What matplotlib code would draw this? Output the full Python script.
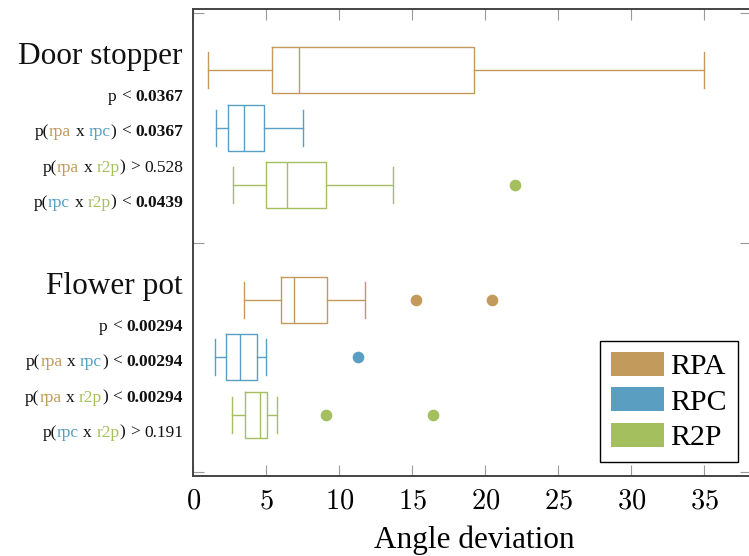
import matplotlib
matplotlib.use("Agg")
import matplotlib.pyplot as plt
from matplotlib.patches import Patch

# ---- data -------------------------------------------------------------
objects = ["Door stopper", "Flower pot"]
methods = ["RPA", "RPC", "R2P"]

# five-number summaries per method: [door stopper, flower pot]
rpa_whislo = [1.03, 3.49]
rpa_q1 = [5.41, 6.01]
rpa_med = [7.26, 6.87]
rpa_q3 = [19.2, 9.18]
rpa_whishi = [35.0, 11.78]
rpa_fliers = [[], [15.23, 20.48]]

rpc_whislo = [1.53, 1.51]
rpc_q1 = [2.38, 2.22]
rpc_med = [3.49, 3.20]
rpc_q3 = [4.82, 4.34]
rpc_whishi = [7.51, 4.96]
rpc_fliers = [[], [11.26]]

r2p_whislo = [2.74, 2.63]
r2p_q1 = [5.00, 3.56]
r2p_med = [6.40, 4.57]
r2p_q3 = [9.11, 5.05]
r2p_whishi = [13.66, 5.75]
r2p_fliers = [[22.03], [9.07, 16.44]]

x_ticks = [0, 5, 10, 15, 20, 25, 30, 35]
x_tick_labels = ["0", "5", "10", "15", "20", "25", "30", "35"]

# significance annotations per object: (overall p, rpa-rpc, rpa-r2p, rpc-r2p)
p_ops = [["<", "<", ">", "<"], ["<", "<", "<", ">"]]
p_vals = [["0.0367", "0.0367", "0.528", "0.0439"],
          ["0.00294", "0.00294", "0.00294", "0.191"]]
p_bold = [[True, True, False, True], [True, True, True, False]]

# ---- style ------------------------------------------------------------
C_RPA = "#c29b5c"
C_RPC = "#5a9fc2"
C_R2P = "#a3bf5e"
COLORS = [C_RPA, C_RPC, C_R2P]
SERIF = "Liberation Serif"

plt.rcParams["font.family"] = [SERIF, "DejaVu Serif"]
plt.rcParams["mathtext.fontset"] = "cm"

W, H = 749, 556
fig = plt.figure(figsize=(W / 100, H / 100), dpi=100)

# axes placed in pixel terms
left_px, right_px, top_px, bottom_px = 193.3, 750.5, 9, 476
ax = fig.add_axes([left_px / W, 1 - bottom_px / H,
                   (right_px - left_px) / W, (bottom_px - top_px) / H])

series = [
    (rpa_whislo, rpa_q1, rpa_med, rpa_q3, rpa_whishi, rpa_fliers),
    (rpc_whislo, rpc_q1, rpc_med, rpc_q3, rpc_whishi, rpc_fliers),
    (r2p_whislo, r2p_q1, r2p_med, r2p_q3, r2p_whishi, r2p_fliers),
]

lw = 1.0
for m, (lo, q1, med, q3, hi, fl) in enumerate(series):
    color = COLORS[m]
    stats = []
    positions = []
    for o in range(len(objects)):
        stats.append(dict(whislo=lo[o], q1=q1[o], med=med[o], q3=q3[o],
                          whishi=hi[o], fliers=fl[o], label=""))
        positions.append(1 + 4 * o + m)
    ax.bxp(stats, positions=positions, widths=0.8, capwidths=0.63,
           orientation="horizontal", showfliers=True, manage_ticks=False,
           boxprops=dict(color=color, linewidth=lw),
           whiskerprops=dict(color=color, linewidth=lw),
           capprops=dict(color=color, linewidth=lw),
           medianprops=dict(color=color, linewidth=lw),
           flierprops=dict(marker="o", markerfacecolor=color,
                           markeredgecolor=color, markeredgewidth=0,
                           markersize=8.4, linestyle="none"))

ax.set_xlim(0, 38.15)
ax.set_ylim(8.07, -0.07)
ax.set_yticks([0, 4, 8])
ax.set_yticklabels([])
ax.set_xticks(x_ticks)
ax.set_xticklabels(["$%s$" % s for s in x_tick_labels])

for sp in ax.spines.values():
    sp.set_color("#444444")
    sp.set_linewidth(1.4)
ax.tick_params(axis="both", direction="in", length=8, width=0.8,
               color="#999999", top=True, right=True)
ax.tick_params(axis="x", labelsize=20.5, pad=10, labelcolor="black")

ax.set_xlabel("Angle deviation", fontsize=22.5, family=SERIF)
ax.xaxis.label.set_va("baseline")
ax.xaxis.set_label_coords((474 - left_px) / (right_px - left_px),
                          -(548 - bottom_px) / (bottom_px - top_px))

# ---- left-hand annotations -------------------------------------------
TEXT_RIGHT = 183.0
LABEL_SIZE = 12.5
GAP = 3.2  # points between words


def right_aligned(y_px, parts, size=LABEL_SIZE):
    """Draw coloured word pieces right-aligned at TEXT_RIGHT on baseline y_px.
    parts: list of (text, color, bold, gap_after_points)."""
    yf = 1 - y_px / H
    prev = None
    for text, color, bold, gap in reversed(parts):
        kw = dict(fontsize=size, color=color, family=SERIF,
                  fontweight="bold" if bold else "normal",
                  ha="right", va="baseline")
        if prev is None:
            t = fig.text(TEXT_RIGHT / W, yf, text, **kw)
        else:
            t = ax.annotate(text, xy=(0, yf),
                            xycoords=(prev, "figure fraction"),
                            xytext=(-gap, 0), textcoords="offset points",
                            annotation_clip=False, **kw)
        prev = t


title_base = [64, 294.3]
line_base = [[100.7, 136, 171.7, 206.7], [330.7, 366, 401.7, 436.7]]
pair_names = [("rpa", C_RPA, "rpc", C_RPC),
              ("rpa", C_RPA, "r2p", C_R2P),
              ("rpc", C_RPC, "r2p", C_R2P)]
K = "#111111"

for o, name in enumerate(objects):
    fig.text(TEXT_RIGHT / W, 1 - title_base[o] / H, name, fontsize=22.5,
             ha="right", va="baseline", family=SERIF, color=K)
    right_aligned(line_base[o][0],
                  [("p", K, False, GAP), (p_ops[o][0], K, False, GAP),
                   (p_vals[o][0], K, p_bold[o][0], 0)])
    for k, (a, ca, b, cb) in enumerate(pair_names):
        right_aligned(line_base[o][k + 1],
                      [("p(", K, False, 0), (a, ca, False, GAP),
                       ("x", K, False, GAP), (b, cb, False, 0),
                       (")", K, False, GAP),
                       (p_ops[o][k + 1], K, False, GAP),
                       (p_vals[o][k + 1], K, p_bold[o][k + 1], 0)])

# ---- legend -----------------------------------------------------------
handles = [Patch(facecolor=c, edgecolor="none", label=l)
           for c, l in zip(COLORS, methods)]
leg = ax.legend(handles=handles, loc="lower right",
                bbox_to_anchor=(737.7 / W, 1 - 461.7 / H),
                bbox_transform=fig.transFigure, borderaxespad=0,
                frameon=True, fancybox=False, framealpha=1,
                edgecolor="black", handlelength=1.8, handleheight=0.87,
                handletextpad=0.2, labelspacing=0.23, borderpad=0.36,
                prop=dict(family=SERIF, size=21.5))
leg.get_frame().set_linewidth(1.0)

fig.savefig("out.png", dpi=100)
